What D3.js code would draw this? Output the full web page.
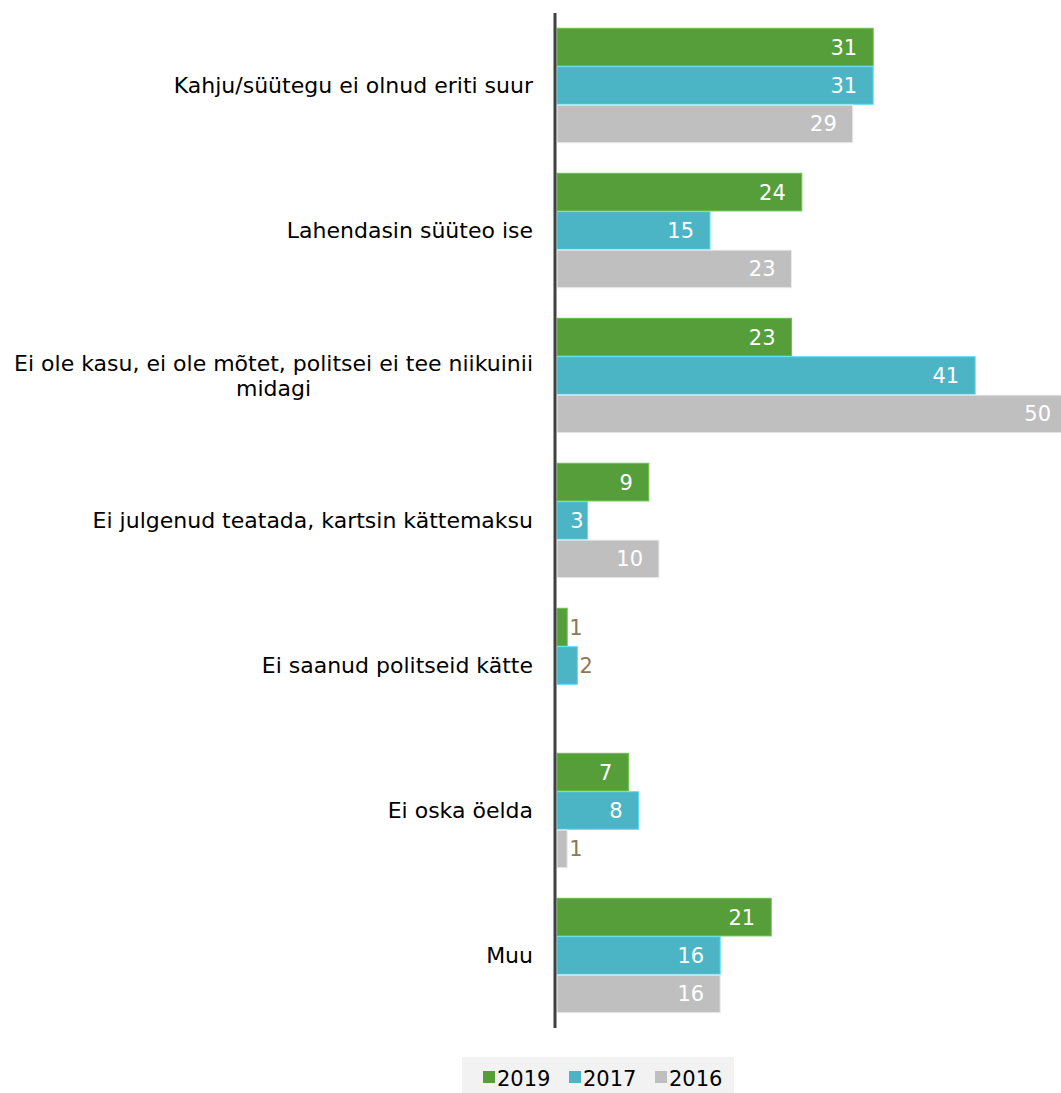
<!DOCTYPE html>
<html><head><meta charset="utf-8">
<script src="https://cdn.jsdelivr.net/npm/d3@7"></script>
<style>body{margin:0;background:#fff;}svg{display:block;}</style>
</head><body><div id="chart"></div>
<script>
const categories = [
  "Kahju/süütegu ei olnud eriti suur",
  "Lahendasin süüteo ise",
  "Ei ole kasu, ei ole mõtet, politsei ei tee niikuinii midagi",
  "Ei julgenud teatada, kartsin kättemaksu",
  "Ei saanud politseid kätte",
  "Ei oska öelda",
  "Muu"
];
const categoryLines = [
  ["Kahju/süütegu ei olnud eriti suur"],
  ["Lahendasin süüteo ise"],
  ["Ei ole kasu, ei ole mõtet, politsei ei tee niikuinii", "midagi"],
  ["Ei julgenud teatada, kartsin kättemaksu"],
  ["Ei saanud politseid kätte"],
  ["Ei oska öelda"],
  ["Muu"]
];
const seriesNames = ["2019", "2017", "2016"];
const values2019 = [31, 24, 23, 9, 1, 7, 21];
const values2017 = [31, 15, 41, 3, 2, 8, 16];
const values2016 = [29, 23, 50, 10, 0, 1, 16];
const colors = ["#559e3a", "#4bb5c5", "#bfbfbf"];

const W = 1061, H = 1093;
const svg = d3.select("#chart").append("svg").attr("width", W).attr("height", H);
const font = "'DejaVu Sans', Verdana, sans-serif";

const x0 = 557;
const x = d3.scaleLinear().domain([0, 50]).range([x0, x0 + 510]);
const y = d3.scaleBand().domain(categories).range([13, 1028]).paddingInner(0.2).paddingOuter(0.1);
const ySub = d3.scaleBand().domain(seriesNames).range([0, y.bandwidth()]).padding(0.02);

const allSeries = [values2019, values2017, values2016];

categories.forEach((c, i) => {
  const g = svg.append("g").attr("transform", `translate(0,${y(c)})`);
  seriesNames.forEach((s, j) => {
    const v = allSeries[j][i];
    if (v <= 0) return;
    const yy = ySub(s), h = ySub.bandwidth();
    const bw = x(v) - x(0);
    g.append("rect").attr("x", x(0)).attr("y", yy).attr("width", bw).attr("height", h)
      .attr("fill", colors[j]).attr("stroke", d3.color(colors[j]).brighter(0.6)).attr("stroke-width", 1);
    const inside = bw > 25;
    const pad = bw > 45 ? 16 : 4;
    g.append("text")
      .attr("x", inside ? x(v) - pad : x(v) + 2)
      .attr("y", yy + h / 2)
      .attr("dy", "0.36em")
      .attr("text-anchor", inside ? "end" : "start")
      .attr("fill", inside ? "#ffffff" : "#8c7a55")
      .attr("font-family", font).attr("font-size", 21)
      .text(v);
  });
  const lines = categoryLines[i];
  const cy = y(c) + y.bandwidth() / 2;
  const lh = 25;
  const t = svg.append("text").attr("class", "cat").attr("font-family", font).attr("font-size", 22).attr("fill", "#000");
  if (lines.length === 1) {
    t.attr("x", 533).attr("y", cy).attr("dy", "0.36em").attr("text-anchor", "end").text(lines[0]);
  } else {
    t.attr("text-anchor", "end");
    lines.forEach((ln, k) => {
      const tsp = t.append("tspan").attr("y", cy + (k - (lines.length - 1) / 2) * lh).attr("dy", "0.36em").text(ln);
      if (k === 0) tsp.attr("x", 533);
    });
  }
});
// center following lines of multi-line label under first
svg.selectAll("text.cat").each(function() {
  const tsp = d3.select(this).selectAll("tspan");
  if (tsp.size() > 1) {
    const first = tsp.nodes()[0].getComputedTextLength();
    const center = 533 - first / 2;
    tsp.filter((d, k) => k > 0).attr("x", center).attr("text-anchor", "middle");
  }
});

// axis line
svg.append("line").attr("x1", 555).attr("x2", 555).attr("y1", 13).attr("y2", 1028)
  .attr("stroke", "#404040").attr("stroke-width", 3);

// legend
const leg = svg.append("g");
leg.append("rect").attr("x", 462).attr("y", 1057).attr("width", 272).attr("height", 36).attr("fill", "#f2f2f2");
const legX = [483, 569, 655];
seriesNames.forEach((s, j) => {
  leg.append("rect").attr("x", legX[j]).attr("y", 1071).attr("width", 12).attr("height", 12).attr("fill", colors[j]);
  leg.append("text").attr("x", legX[j] + 14).attr("y", 1078).attr("dy", "0.36em")
    .attr("font-family", font).attr("font-size", 21).attr("fill", "#000").text(s);
});
</script>
</body></html>
